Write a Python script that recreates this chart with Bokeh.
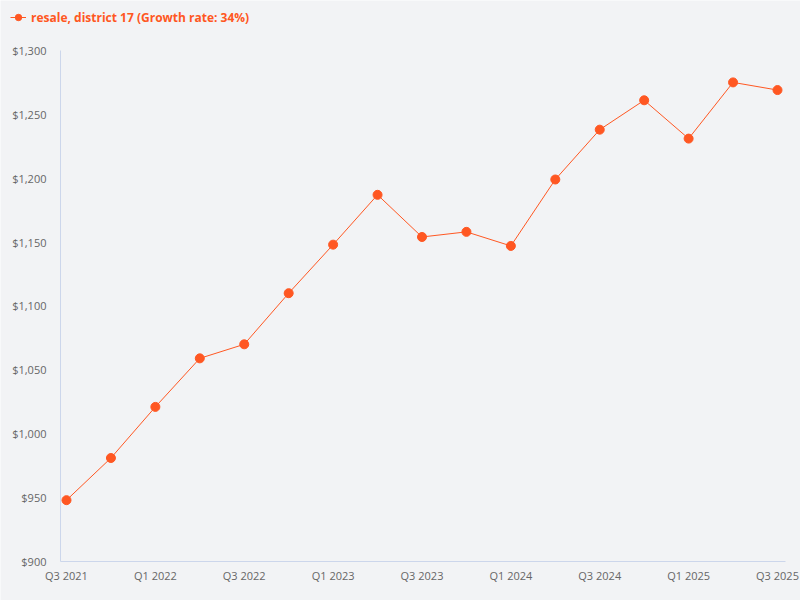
from bokeh.plotting import figure
from bokeh.models import (ColumnDataSource, Legend, LegendItem, FixedTicker,
                          SingleIntervalTicker, NumeralTickFormatter, Range1d)
from bokeh.embed import file_html
from bokeh.resources import INLINE

# quarterly resale prices, district 17
quarters = ["Q3 2021", "Q4 2021", "Q1 2022", "Q2 2022", "Q3 2022", "Q4 2022",
            "Q1 2023", "Q2 2023", "Q3 2023", "Q4 2023", "Q1 2024", "Q2 2024",
            "Q3 2024", "Q4 2024", "Q1 2025", "Q2 2025", "Q3 2025"]
prices = [948, 981, 1021, 1059, 1070, 1110, 1148, 1187, 1154, 1158, 1147,
          1199, 1238, 1261, 1231, 1275, 1269]
series_name = "resale, district 17 (Growth rate: 34%)"

COLOR = "#ff5722"
BG = "#f2f3f5"
FONT = "Open Sans"

idx = list(range(len(quarters)))
source = ColumnDataSource(dict(x=idx, y=prices, q=quarters))

# the frame fills the whole figure (nothing gets clipped at the edges);
# both axes are pinned inside it and their lines are bounded
x_left, x_right = -0.135, len(quarters) - 1 + 0.18
y_low, y_high = 900, 1300
p = figure(width=800, height=600, output_backend="svg", toolbar_location=None,
           x_range=Range1d(-1.485, 16.5176),
           y_range=Range1d(869.47, 1339.1))
p.background_fill_color = BG
p.border_fill_color = BG
p.outline_line_color = None
p.min_border = 0

ln = p.line("x", "y", source=source, line_color=COLOR, line_width=1)
pts = p.scatter("x", "y", source=source, size=9, fill_color=COLOR,
                line_color=COLOR)

p.xgrid.visible = False
p.ygrid.visible = False

for ax in (p.xaxis[0], p.yaxis[0]):
    ax.axis_line_color = "#ccd6eb"
    ax.major_tick_line_color = None
    ax.minor_tick_line_color = None
    ax.major_tick_out = 0
    ax.major_tick_in = 0
    ax.major_label_text_font = FONT
    ax.major_label_text_font_size = "11px"
    ax.major_label_text_color = "#666666"

p.xaxis.ticker = FixedTicker(ticks=idx[::2])
p.xaxis.major_label_overrides = {i: quarters[i] for i in idx[::2]}
p.xaxis.major_label_standoff = 7
p.xaxis.bounds = (x_left, x_right)
p.xaxis.fixed_location = y_low

p.yaxis.ticker = SingleIntervalTicker(interval=50, num_minor_ticks=0)
p.yaxis.formatter = NumeralTickFormatter(format="$0,0")
p.yaxis.major_label_standoff = 14
p.yaxis.bounds = (y_low, y_high)
p.yaxis.fixed_location = x_left

legend = Legend(items=[LegendItem(label=series_name, renderers=[ln, pts])],
                location=(10, 574), orientation="horizontal")
legend.background_fill_alpha = 0
legend.border_line_color = None
legend.label_text_font = FONT
legend.label_text_font_style = "bold"
legend.label_text_font_size = "12px"
legend.label_text_color = COLOR
legend.glyph_width = 16
legend.glyph_height = 18
legend.label_height = 18
legend.label_standoff = 5
legend.padding = 0
legend.margin = 0
p.add_layout(legend)

open("out.html", "w").write(file_html(p, INLINE))
